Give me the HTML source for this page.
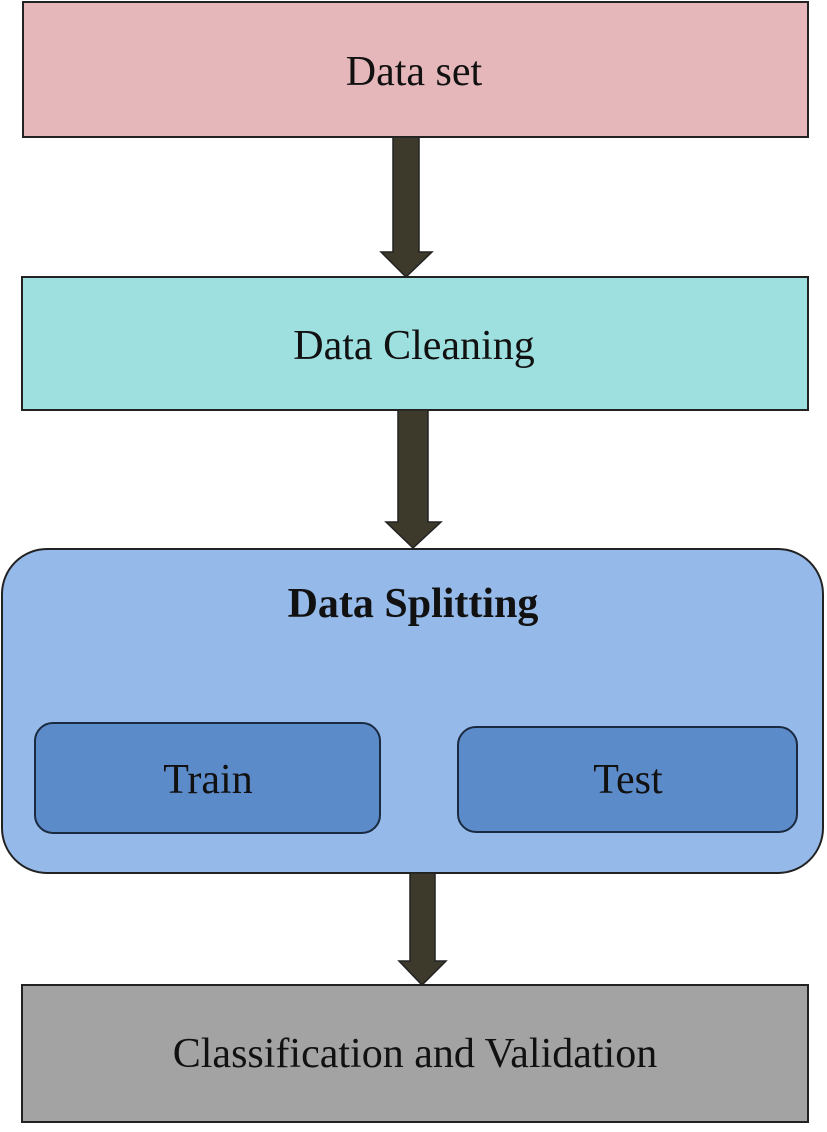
<!DOCTYPE html>
<html><head><style>
body{margin:0;width:827px;height:1127px;background:#fff;overflow:hidden}
svg text{font-family:"Liberation Serif",serif;fill:#111}
</style></head><body>
<svg width="827" height="1127" viewBox="0 0 827 1127">
<rect x="23" y="2" width="785" height="135" fill="#e6b7ba" stroke="#222" stroke-width="2"/>
<text x="414" y="85" font-size="42" text-anchor="middle">Data set</text>
<polygon points="393,137 419,137 419,252 432,252 406,277 381,252 393,252" fill="#3d3a2c" stroke="#222" stroke-width="1.5"/>
<rect x="22" y="277" width="786" height="133" fill="#9edfe0" stroke="#222" stroke-width="2"/>
<text x="414" y="359" font-size="42" text-anchor="middle">Data Cleaning</text>
<polygon points="398,410 428,410 428,522 441,522 413,548 386,522 398,522" fill="#3d3a2c" stroke="#222" stroke-width="1.5"/>
<rect x="2" y="549" width="821" height="324" rx="45" fill="#95b9e9" stroke="#222" stroke-width="2"/>
<text x="413" y="617" font-size="42" font-weight="bold" text-anchor="middle">Data Splitting</text>
<rect x="35" y="723" width="345" height="110" rx="18" fill="#5c8bc9" stroke="#1a2a40" stroke-width="2"/>
<text x="208" y="793" font-size="42" text-anchor="middle">Train</text>
<rect x="458" y="727" width="339" height="105" rx="18" fill="#5c8bc9" stroke="#1a2a40" stroke-width="2"/>
<text x="628" y="793" font-size="42" text-anchor="middle">Test</text>
<polygon points="410,873 435,873 435,961 446,961 422,985 399,961 410,961" fill="#3d3a2c" stroke="#222" stroke-width="1.5"/>
<rect x="22" y="985" width="786" height="137" fill="#a3a3a3" stroke="#222" stroke-width="2"/>
<text x="415" y="1067" font-size="42" text-anchor="middle">Classification and Validation</text>
</svg>
</body></html>
